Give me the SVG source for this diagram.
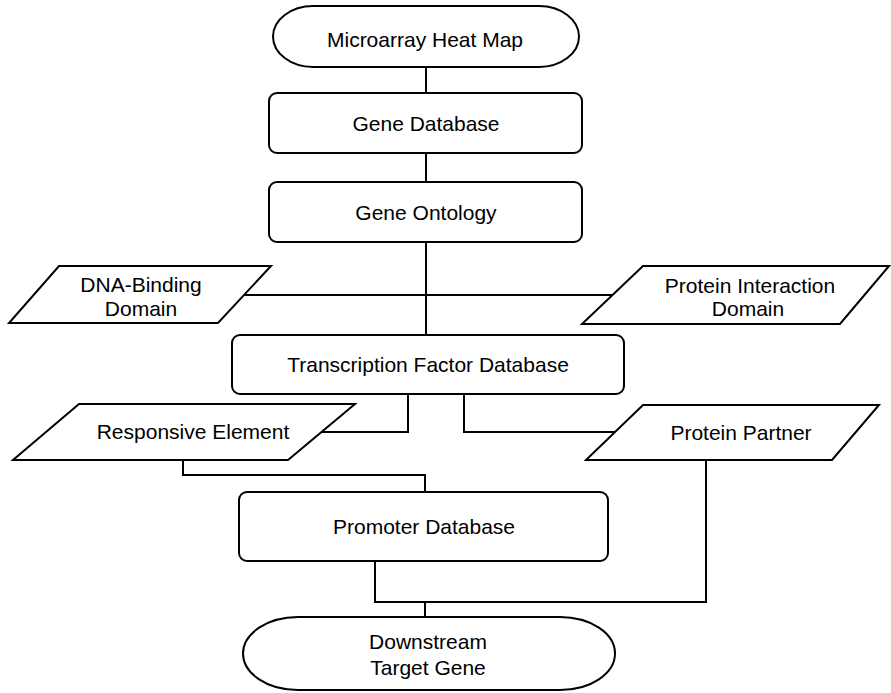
<svg xmlns="http://www.w3.org/2000/svg" width="891" height="693" viewBox="0 0 891 693">
<style>
.shape{fill:#fff;stroke:#000;stroke-width:2}
.conn{fill:none;stroke:#000;stroke-width:2}
text{font-family:"Liberation Sans",Arial,sans-serif;font-size:21px;fill:#000;text-anchor:middle}
</style>
<rect width="891" height="693" fill="#fff"/>
<g id="connectors">
<path class="conn" d="M426,67V93"/>
<path class="conn" d="M426,153V182"/>
<path class="conn" d="M426,242V335"/>
<path class="conn" d="M244,295H613"/>
<path class="conn" d="M408,394V432H322"/>
<path class="conn" d="M464,394V432H615"/>
<path class="conn" d="M183,460V475H425V492"/>
<path class="conn" d="M375,561V602H706V460"/>
<path class="conn" d="M425,602V617"/>
</g>
<g id="microarray">
<rect class="shape" x="273" y="6" width="306" height="61" rx="40" ry="30.5"/>
<text x="425" y="47">Microarray Heat Map</text>
</g>
<g id="gene-database">
<rect class="shape" x="269" y="93" width="313" height="60" rx="8"/>
<text x="426" y="131">Gene Database</text>
</g>
<g id="gene-ontology">
<rect class="shape" x="269" y="182" width="313" height="60" rx="8"/>
<text x="426" y="220">Gene Ontology</text>
</g>
<g id="dna-binding">
<polygon class="shape" points="59,266 271,266 218,323 9,323"/>
<text x="141" y="292">DNA-Binding</text>
<text x="141" y="316">Domain</text>
</g>
<g id="protein-interaction">
<polygon class="shape" points="643,266 889,266 840,324 582,324"/>
<text x="750" y="293">Protein Interaction</text>
<text x="748" y="316">Domain</text>
</g>
<g id="tf-database">
<rect class="shape" x="232" y="335" width="392" height="59" rx="8"/>
<text x="428" y="372">Transcription Factor Database</text>
</g>
<g id="responsive-element">
<polygon class="shape" points="79,404 355,404 288,460 13,460"/>
<text x="193" y="439">Responsive Element</text>
</g>
<g id="protein-partner">
<polygon class="shape" points="643,405 879,405 832,460 586,460"/>
<text x="741" y="440">Protein Partner</text>
</g>
<g id="promoter-database">
<rect class="shape" x="239" y="492" width="369" height="69" rx="8"/>
<text x="424" y="534">Promoter Database</text>
</g>
<g id="downstream">
<rect class="shape" x="243" y="617" width="372" height="73" rx="55" ry="36.5"/>
<text x="428" y="649">Downstream</text>
<text x="428" y="675">Target Gene</text>
</g>
</svg>
